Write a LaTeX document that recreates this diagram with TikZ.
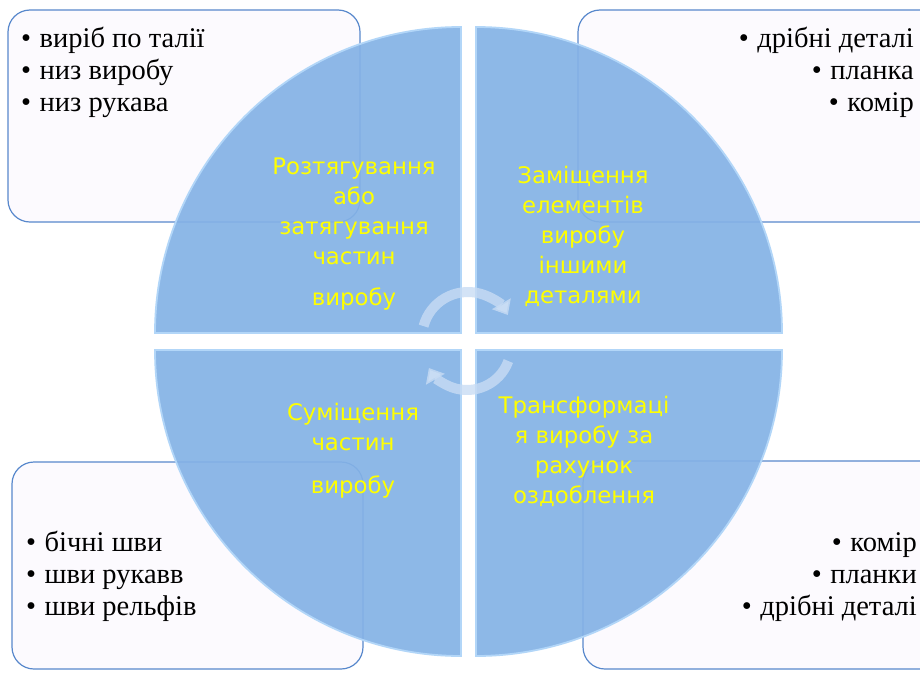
\documentclass[tikz,border=0pt]{standalone}
\usepackage{fontspec}
\setmainfont{Liberation Serif}
\newfontfamily\captfont{DejaVu Sans}
\usepackage{tikz}
\usetikzlibrary{arrows.meta}
\definecolor{pieblue}{RGB}{132,178,230}
\definecolor{pieedge}{RGB}{178,214,248}
\definecolor{boxline}{RGB}{88,136,204}
\definecolor{boxfill}{RGB}{252,250,254}
\definecolor{captyellow}{RGB}{255,255,0}
\newcommand{\bul}{•\hspace{0.3em}}

\begin{document}
\begin{tikzpicture}[x=1pt, y=-1pt,
  listbox/.style={draw=boxline, line width=1.2pt, fill=boxfill, rounded corners=22pt},
  quarter/.style={fill=pieblue, fill opacity=0.92, draw=pieedge, line width=1.8pt},
  listtext/.style={inner sep=0pt, font=\fontsize{28.5}{32}\selectfont},
  capt/.style={inner sep=0pt, align=center, text=captyellow, font=\captfont\fontsize{22.8}{30}\selectfont},
  cyclearrow/.style={draw=white!55!pieblue, draw opacity=0.8, line width=10pt,
    -{Triangle[width=21pt,length=13pt]}}]
\useasboundingbox (0,0) rectangle (920,672);
\clip (0,0) rectangle (920,672);
\fill[white] (0,0) rectangle (920,672);

% boxes behind the circle
\draw[listbox] (8,10) rectangle (360,222);
\draw[listbox] (578,10) rectangle (945,222);
\draw[listbox] (12,462) rectangle (363,669);
\draw[listbox] (583,461) rectangle (945,669);

% the four quarters
\draw[quarter] (461,333) -- (155,333) arc[start angle=180, end angle=270, radius=306] -- cycle;
\draw[quarter] (476,333) -- (476,27) arc[start angle=270, end angle=360, radius=306] -- cycle;
\draw[quarter] (461,350) -- (461,656) arc[start angle=90, end angle=180, radius=306] -- cycle;
\draw[quarter] (476,350) -- (782,350) arc[start angle=0, end angle=90, radius=306] -- cycle;

% lists
\node[listtext, anchor=north west, align=left] (tllist) at (21,27)
  {\bul виріб по талії\\\bul низ виробу\\\bul низ рукава};
\node[listtext, anchor=north east, align=right] (trlist) at (914,27)
  {\bul дрібні деталі\\\bul планка\\\bul комір};
\node[listtext, anchor=north west, align=left] (bllist) at (26,531)
  {\bul бічні шви\\\bul шви рукавв\\\bul шви рельфів};
\node[listtext, anchor=north east, align=right] (brlist) at (917,532)
  {\bul комір\\\bul планки\\\bul дрібні деталі};

% captions
\node[capt] (tlcapt) at (354,234) {Розтягування\\або\\затягування\\частин\\[11pt]виробу};
\node[capt] (trcapt) at (583,236) {Заміщення\\елементів\\виробу\\іншими\\деталями};
\node[capt] (blcapt) at (353,451) {Суміщення\\частин\\[13pt]виробу};
\node[capt] (brcapt) at (584,451) {Трансформаці\\я виробу за\\рахунок\\оздоблення};

% cycle arrows
\coordinate (mid) at (468,341);
\draw[cyclearrow] (mid) ++(0,-3) ++(-165:46) arc[start angle=-165, end angle=-30, radius=46];
\draw[cyclearrow] (mid) ++(-1,5) ++(20:44) arc[start angle=20, end angle=150, radius=44];
\end{tikzpicture}
\end{document}
